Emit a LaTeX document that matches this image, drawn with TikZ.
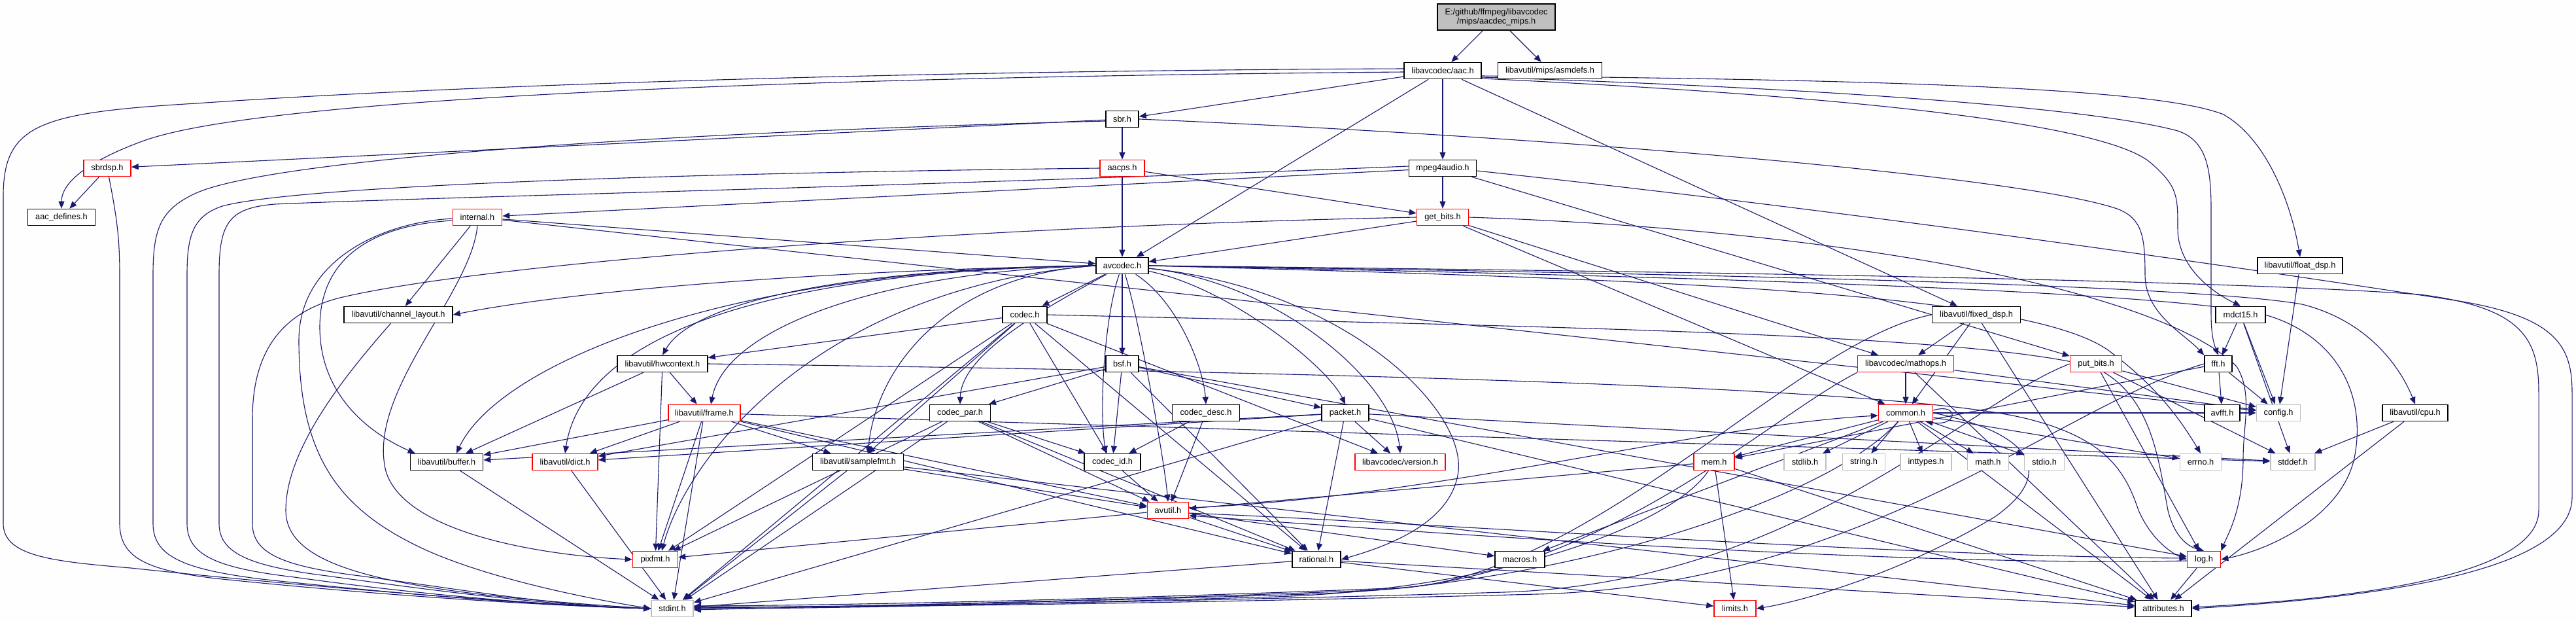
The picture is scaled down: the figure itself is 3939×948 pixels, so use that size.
\documentclass[tikz,border=0pt]{standalone}
\usepackage{fontspec}
\setmainfont{Liberation Sans}
\usetikzlibrary{arrows.meta}
\definecolor{edgec}{HTML}{191970}
\definecolor{bgc}{HTML}{FDFEFD}
\definecolor{nodered}{HTML}{FF0000}
\definecolor{nodegray}{HTML}{BFBFBF}
\pgfdeclarelayer{bottom}
\pgfdeclarelayer{edges}
\pgfsetlayers{bottom,edges,main}
\tikzset{
 nb/.style={draw=black, fill=white, line width=1.6pt, minimum height=25pt, inner sep=0pt, font=\fontsize{12.8}{14}\selectfont},
 nr/.style={nb, draw=nodered},
 ng/.style={nb, draw=nodegray},
 rootbox/.style={nb, fill=nodegray, minimum height=40pt, align=center},
 e/.style={draw=edgec, line width=1.1pt, -{Triangle[length=11pt,width=9pt]}},
}
\newcommand\nd[6]{\node[#1, minimum width=#5pt] (#2) at (#3,#4) {#6};}
\begin{document}
\begin{tikzpicture}[x=1pt,y=-1pt]
\useasboundingbox (0,0) rectangle (3939,948);
\begin{pgfonlayer}{bottom}
\fill[bgc] (0,0) rectangle (3939,948);
\end{pgfonlayer}
% nodes
\node[rootbox, minimum width=180pt] (root) at (2288,26) {E:/github/ffmpeg/libavcodec\\/mips/aacdec\_mips.h};
\nd{nb}{aac}{2206}{108}{118}{libavcodec/aac.h}
\nd{nb}{asmdefs}{2370}{108}{159}{libavutil/mips/asmdefs.h}
\nd{nb}{sbr}{1716}{182}{50}{sbr.h}
\nd{nr}{sbrdsp}{164}{257}{72}{sbrdsp.h}
\nd{nr}{aacps}{1716}{257}{68}{aacps.h}
\nd{nb}{mpeg4audio}{2206}{257}{103}{mpeg4audio.h}
\nd{nb}{aacdefines}{94}{332}{103}{aac\_defines.h}
\nd{nr}{internal}{730}{332}{75}{internal.h}
\nd{nr}{getbits}{2206}{332}{79}{get\_bits.h}
\nd{nb}{avcodec}{1716}{406}{80}{avcodec.h}
\nd{nb}{floatdsp}{3517}{406}{130}{libavutil/float\_dsp.h}
\nd{nb}{chlayout}{609}{481}{166}{libavutil/channel\_layout.h}
\nd{nb}{codec}{1567}{481}{68}{codec.h}
\nd{nb}{fixeddsp}{3022}{481}{135}{libavutil/fixed\_dsp.h}
\nd{nb}{mdct15}{3426}{481}{76}{mdct15.h}
\nd{nb}{hwcontext}{1013}{556}{138}{libavutil/hwcontext.h}
\nd{nb}{bsf}{1716}{556}{50}{bsf.h}
\nd{nr}{mathops}{2914}{556}{147}{libavcodec/mathops.h}
\nd{nr}{putbits}{3205}{556}{79}{put\_bits.h}
\nd{nb}{fft}{3392}{556}{42}{fft.h}
\nd{nr}{frame}{1077}{631}{110}{libavutil/frame.h}
\nd{nb}{codecpar}{1468}{631}{93}{codec\_par.h}
\nd{nb}{codecdesc}{1844}{631}{103}{codec\_desc.h}
\nd{nb}{packet}{2057}{631}{72}{packet.h}
\nd{nr}{common}{2914}{631}{83}{common.h}
\nd{nb}{avfft}{3398}{631}{54}{avfft.h}
\nd{ng}{config}{3484}{631}{67}{config.h}
\nd{nb}{cpu}{3693}{631}{100}{libavutil/cpu.h}
\nd{nb}{buffer}{683}{706}{111}{libavutil/buffer.h}
\nd{nr}{dict}{864}{706}{100}{libavutil/dict.h}
\nd{nb}{samplefmt}{1312}{706}{139}{libavutil/samplefmt.h}
\nd{nb}{codecid}{1701}{706}{86}{codec\_id.h}
\nd{nr}{version}{2141}{706}{138}{libavcodec/version.h}
\nd{nr}{mem}{2621}{706}{62}{mem.h}
\nd{ng}{stdlib}{2760}{706}{64}{stdlib.h}
\nd{ng}{string}{2850}{706}{65}{string.h}
\nd{ng}{inttypes}{2945}{706}{78}{inttypes.h}
\nd{ng}{math}{3040}{706}{63}{math.h}
\nd{ng}{stdio}{3126}{706}{61}{stdio.h}
\nd{ng}{errno}{3365}{706}{63}{errno.h}
\nd{ng}{stddef}{3506}{706}{68}{stddef.h}
\nd{nr}{avutil}{1786}{780}{63}{avutil.h}
\nd{nr}{pixfmt}{1002}{855}{69}{pixfmt.h}
\nd{nb}{rational}{2013}{855}{74}{rational.h}
\nd{nb}{macros}{2324}{855}{76}{macros.h}
\nd{nr}{log}{3370}{855}{51}{log.h}
\nd{ng}{stdint}{1028}{930}{64}{stdint.h}
\nd{nr}{limits}{2653}{930}{64}{limits.h}
\nd{nb}{attributes}{3308}{930}{86}{attributes.h}
% edges
\begin{pgfonlayer}{edges}
\foreach \a/\b in {root/aac, root/asmdefs,
 aac/sbr, aac/avcodec, aac/mpeg4audio, aac/fixeddsp,
 sbr/sbrdsp, sbr/aacps, sbrdsp/aacdefines,
 aacps/avcodec, aacps/getbits,
 mpeg4audio/getbits, mpeg4audio/internal, mpeg4audio/putbits,
 internal/avcodec, internal/chlayout, internal/config,
 getbits/avcodec, getbits/mathops, getbits/common,
 avcodec/codec, avcodec/bsf,
 codec/hwcontext, codec/samplefmt, codec/codecid, codec/version, codec/pixfmt, codec/rational, codec/stdint,
 bsf/codecpar, bsf/codecid, bsf/packet, bsf/dict, bsf/rational, bsf/log,
 codecdesc/avutil, codecdesc/codecid,
 codecpar/avutil, codecpar/codecid, codecpar/rational, codecpar/pixfmt, codecpar/stdint,
 codecid/avutil,
 packet/stdint, packet/attributes, packet/buffer, packet/dict, packet/rational, packet/version, packet/stddef,
 hwcontext/buffer, hwcontext/frame, hwcontext/pixfmt,
 frame/stdint, frame/avutil, frame/buffer, frame/dict, frame/rational, frame/samplefmt, frame/pixfmt, frame/stddef,
 buffer/stdint, dict/stdint,
 samplefmt/avutil, samplefmt/attributes, samplefmt/stdint,
 avutil/rational, avutil/macros, avutil/pixfmt,
 common/errno, common/inttypes, common/math, common/stdio, common/stdlib, common/string, common/attributes, common/macros, common/config, common/mem,
 mem/limits, mem/attributes, mem/avutil,
 rational/stdint, rational/limits, rational/attributes,
 log/attributes,
 mathops/common, mathops/config, mathops/attributes,
 putbits/stddef, putbits/config, putbits/log,
 fft/avfft, fft/config, fft/mem,
 fixeddsp/mathops, fixeddsp/common, fixeddsp/attributes,
 floatdsp/config, cpu/stddef, cpu/attributes,
 mdct15/fft, mdct15/stddef, mdct15/config}
 \draw[e] (\a) -- (\b);
% right sources to stdint along the bottom
\draw[e] (common) .. controls (2800,760) and (2400,895) .. (2000,908) .. controls (1600,920) and (1300,928) .. ([yshift=2pt]stdint.east);
\draw[e] (mem) .. controls (2560,800) and (2300,900) .. (1950,912) .. controls (1600,922) and (1300,930) .. (stdint.east);
\draw[e] (mathops.south west) .. controls (2700,640) and (2450,885) .. (2100,902) .. controls (1700,918) and (1300,926) .. ([yshift=-2pt]stdint.east);
\draw[e] (putbits.west) .. controls (3000,620) and (2750,890) .. (2300,905) .. controls (1800,920) and (1300,927) .. ([yshift=1pt]stdint.east);
\draw[e] (fft.west) .. controls (3150,620) and (2850,895) .. (2350,908) .. controls (1800,922) and (1300,929) .. ([yshift=3pt]stdint.east);
\draw[e] (fixeddsp.west) .. controls (2750,520) and (2450,870) .. (2150,898) .. controls (1700,916) and (1300,925) .. ([yshift=4pt]stdint.east);
\draw[e] (common.east) .. controls (3100,660) and (3150,720) .. (3050,790) .. controls (2900,880) and (2750,920) .. (limits.east);
% left routes
\draw[e] ([yshift=3pt]aac.west) .. controls (1400,108) and (700,130) .. (300,158) .. controls (60,172) and (5,190) .. (5,300) -- (5,800) .. controls (5,850) and (80,858) .. (200,868) .. controls (500,900) and (850,926) .. (stdint.west);
\draw[e] ([yshift=-2pt]aac.west) .. controls (1200,118) and (400,150) .. (220,215) .. controls (110,255) and (94,290) .. (aacdefines.north);
\draw[e] (sbrdsp) .. controls (178,330) and (183,360) .. (183,420) -- (183,800) .. controls (183,855) and (230,872) .. (330,884) .. controls (600,912) and (850,926) .. (stdint.west);
\draw[e] ([yshift=-3pt]sbr.west) .. controls (900,205) and (400,250) .. (300,295) .. controls (245,320) and (234,350) .. (234,420) -- (234,800) .. controls (234,850) and (280,870) .. (400,885) .. controls (650,912) and (850,926) .. (stdint.west);
\draw[e] (aacps.west) .. controls (1000,265) and (450,285) .. (340,315) .. controls (295,330) and (286,360) .. (286,420) -- (286,800) .. controls (286,848) and (330,868) .. (450,882) .. controls (650,910) and (850,926) .. (stdint.west);
\draw[e] ([yshift=3pt]mpeg4audio.west) .. controls (1400,285) and (700,300) .. (420,312) .. controls (350,318) and (335,340) .. (335,420) -- (335,800) .. controls (335,845) and (380,865) .. (500,880) .. controls (680,905) and (850,926) .. (stdint.west);
\draw[e] (getbits.west) .. controls (1500,345) and (750,400) .. (520,455) .. controls (420,480) and (386,550) .. (386,640) -- (386,800) .. controls (386,845) and (430,865) .. (550,880) .. controls (700,900) and (850,926) .. (stdint.west);
\draw[e] (chlayout) .. controls (540,560) and (437,680) .. (437,780) .. controls (437,870) and (600,905) .. (stdint.west);
\draw[e] ([yshift=-5pt]internal.west) .. controls (560,345) and (489,400) .. (489,500) .. controls (489,600) and (560,660) .. ([xshift=8pt]buffer.north west);
\draw[e] ([yshift=-2pt]internal.west) .. controls (580,340) and (457,400) .. (457,520) .. controls (457,700) and (520,780) .. (650,840) .. controls (750,885) and (900,915) .. (stdint.west);
\draw[e] (internal.south) .. controls (720,450) and (560,600) .. (590,720) .. controls (620,820) and (850,850) .. (pixfmt.west);
% right routes
\draw[e] ([yshift=-8pt]aac.east) .. controls (2900,122) and (3300,135) .. (3400,175) .. controls (3470,215) and (3505,320) .. (floatdsp.north);
\draw[e] ([yshift=-10pt]aac.east) .. controls (2800,135) and (3200,165) .. (3330,200) .. controls (3375,215) and (3381,260) .. (3381,320) -- (3381,480) .. controls (3381,510) and (3385,525) .. (fft.north);
\draw[e] ([yshift=-12pt]aac.east) .. controls (2900,150) and (3230,195) .. (3290,250) .. controls (3330,285) and (3330,300) .. (3330,350) .. controls (3330,400) and (3370,440) .. (mdct15.north);
\draw[e] (sbr.east) .. controls (2400,210) and (3100,270) .. (3240,320) .. controls (3275,335) and (3280,360) .. (3280,420) .. controls (3280,480) and (3340,510) .. (fft.north west);
\draw[e] ([yshift=-4pt]mpeg4audio.east) .. controls (2900,330) and (3500,420) .. (3760,460) .. controls (3910,485) and (3933,530) .. (3933,600) -- (3933,760) .. controls (3933,880) and (3600,915) .. (attributes.east);
\draw[e] (avcodec.east) .. controls (2600,415) and (3400,428) .. (3700,450) .. controls (3860,470) and (3882,520) .. (3882,600) -- (3882,780) .. controls (3882,880) and (3600,915) .. ([yshift=2pt]attributes.east);
\draw[e] (avcodec.east) .. controls (2600,418) and (3350,435) .. (3520,465) .. controls (3620,490) and (3670,560) .. (cpu.north);
\draw[e] (avcodec.east) .. controls (2600,422) and (3300,445) .. (3460,480) .. controls (3570,510) and (3620,600) .. (3600,700) .. controls (3580,790) and (3470,840) .. (log.east);
\draw[e] (avcodec.east) .. controls (2600,428) and (3120,450) .. (3230,540) .. controls (3310,600) and (3345,660) .. (errno.north);
\draw[e] (codec.east) .. controls (2400,500) and (3000,510) .. (3200,560) .. controls (3290,600) and (3300,700) .. (3315,780) .. controls (3325,820) and (3345,835) .. (log.north);
\draw[e] (hwcontext.east) .. controls (2000,568) and (2900,590) .. (3100,640) .. controls (3220,670) and (3250,720) .. (3270,780) .. controls (3290,825) and (3320,845) .. (log.west);
\draw[e] (getbits.east) .. controls (2800,350) and (3300,440) .. (3420,560) .. controls (3445,600) and (3430,650) .. (3430,700) .. controls (3430,780) and (3405,820) .. (log.north east);
\draw[e] ([yshift=-4pt]avutil.east) .. controls (2200,800) and (2900,850) .. ([yshift=2pt]log.west);
\draw[e] ([yshift=-2pt]log.west) .. controls (2900,866) and (2200,815) .. ([yshift=-8pt]avutil.east);
\draw[e] ([yshift=4pt]avutil.east) .. controls (2200,760) and (2600,650) .. ([yshift=-4pt]common.west);
\draw[e] ([yshift=4pt]common.east) .. controls (2995,615) and (2995,652) .. ([xshift=-12pt]common.south east);
% avcodec fan
\draw[e] (avcodec.west) .. controls (1300,410) and (1060,460) .. (hwcontext.north);
\draw[e] (avcodec.west) .. controls (1350,415) and (1110,500) .. ([xshift=10pt]frame.north);
\draw[e] (avcodec.west) .. controls (1150,415) and (890,520) .. (dict.north);
\draw[e] (avcodec.west) .. controls (1100,410) and (760,560) .. ([xshift=15pt]buffer.north);
\draw[e] (avcodec.west) .. controls (1450,420) and (1340,560) .. ([xshift=15pt]samplefmt.north);
\draw[e] (avcodec.west) .. controls (1300,412) and (900,440) .. (chlayout.east);
\draw[e] (avcodec.west) .. controls (1250,440) and (1050,700) .. ([xshift=10pt]pixfmt.north);
\draw[e] (avcodec) .. controls (1600,470) and (1470,540) .. (codecpar.north);
\draw[e] (avcodec) .. controls (1690,480) and (1680,620) .. ([xshift=-10pt]codecid.north);
\draw[e] (avcodec) .. controls (1740,480) and (1780,700) .. (avutil.north);
\draw[e] (avcodec) .. controls (1800,460) and (1840,560) .. (codecdesc.north);
\draw[e] (avcodec) .. controls (1880,440) and (2030,560) .. (packet.north);
\draw[e] (avcodec) .. controls (1950,430) and (2130,580) .. (version.north);
\draw[e] (avcodec) .. controls (2050,440) and (2240,620) .. (2230,720) .. controls (2220,800) and (2120,835) .. (rational.east);
\end{pgfonlayer}
\end{tikzpicture}
\end{document}
